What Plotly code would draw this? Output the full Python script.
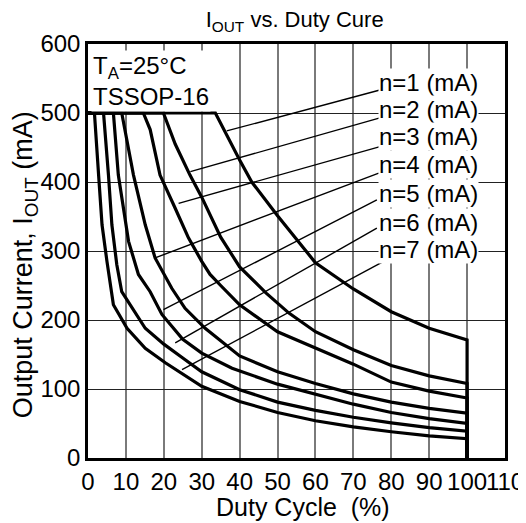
import plotly.graph_objects as go

# ---- data ----
duty_n1 = [0, 33.6, 40, 43.2, 50, 60, 70, 80, 90, 100, 100]
iout_n1 = [500, 500, 432, 400, 351, 283, 245, 212, 188, 171, 0]

duty_n2 = [0, 19.9, 23, 26.9, 30, 35, 40, 47, 53, 60, 70, 80, 90, 100, 100]
iout_n2 = [500, 500, 455, 410, 378, 320, 277, 239, 210, 183, 157, 134, 119, 108, 0]

duty_n3 = [0, 14.6, 16.4, 19, 23, 26.5, 30, 32.2, 35, 40, 50, 60, 70, 80, 90, 100, 100]
iout_n3 = [500, 500, 476, 410, 362, 319, 285, 266, 250, 222, 183, 160, 136, 110, 97, 87, 0]

duty_n4 = [0, 8.9, 12, 15.1, 17.7, 22.1, 25.6, 30.9, 40, 50, 60, 70, 80, 90, 100, 100]
iout_n4 = [500, 500, 410, 338, 290, 246, 217, 188, 148, 125, 108, 93, 81, 72, 65, 0]

duty_n5 = [0, 6.7, 8.0, 10.7, 13.3, 16.4, 19.5, 25, 30, 38, 50, 60, 70, 80, 90, 100, 100]
iout_n5 = [500, 500, 410, 314, 266, 241, 208, 172, 152, 130, 107, 92, 78, 66, 57, 50, 0]

duty_n6 = [0, 4.1, 5.4, 6.3, 7.6, 8.9, 15.1, 20, 25, 30, 40, 50, 60, 70, 80, 90, 100, 100]
iout_n6 = [500, 500, 410, 338, 280, 241, 188, 165, 145, 125, 99, 81, 69, 59, 51, 44, 39, 0]

duty_n7 = [0, 1.7, 2.8, 3.7, 5.0, 6.7, 10.3, 15.1, 20.4, 25, 30, 40, 50, 60, 70, 80, 90, 100, 100]
iout_n7 = [500, 500, 410, 338, 285, 222, 188, 159, 138, 122, 104, 82, 66, 54, 45, 38, 32, 28, 0]

series_duty = [duty_n1, duty_n2, duty_n3, duty_n4, duty_n5, duty_n6, duty_n7]
series_iout = [iout_n1, iout_n2, iout_n3, iout_n4, iout_n5, iout_n6, iout_n7]
series_names = ["n=1 (mA)", "n=2 (mA)", "n=3 (mA)", "n=4 (mA)",
                "n=5 (mA)", "n=6 (mA)", "n=7 (mA)"]

# label text positions and leader-line end points (data units)
label_x = [76.4, 76.4, 76.4, 76.4, 76.4, 76.4, 76.4]
label_y = [544, 505, 466, 425, 384, 342, 302]
leader_from_x = [77.5, 78.4, 77.5, 76.7, 76.2, 76.2, 78.0]
leader_from_y = [534, 495, 452, 413, 374, 333, 285]
leader_to_x = [36.6, 27.0, 23.9, 17.7, 19.9, 23.0, 24.8]
leader_to_y = [474, 415, 369, 290, 215, 167, 128]

x_ticks = [0, 10, 20, 30, 40, 50, 60, 70, 80, 90, 100, 110]
y_ticks = [0, 100, 200, 300, 400, 500, 600]

FONT = "Liberation Sans, Arial, Helvetica, sans-serif"

fig = go.Figure()

# leader lines
for i in range(len(series_names)):
    fig.add_trace(go.Scatter(
        x=[leader_from_x[i], leader_to_x[i]],
        y=[leader_from_y[i], leader_to_y[i]],
        mode="lines", line=dict(color="black", width=1.4),
        showlegend=False, hoverinfo="skip"))

# curves
for d, c, name in zip(series_duty, series_iout, series_names):
    fig.add_trace(go.Scatter(
        x=d, y=c, mode="lines", name=name,
        line=dict(color="black", width=3.2),
        showlegend=False))

# labels
for i, name in enumerate(series_names):
    fig.add_annotation(
        x=label_x[i], y=label_y[i], text=name, showarrow=False,
        xanchor="left", yanchor="middle", bgcolor="white", borderpad=0,
        font=dict(size=24, color="black", family=FONT))

fig.add_annotation(
    x=0.9, y=592, text="T<sub>A</sub>=25°C<br>TSSOP-16", showarrow=False,
    xanchor="left", yanchor="top", align="left", bgcolor="white", borderpad=1,
    font=dict(size=24, color="black", family=FONT))

# axis titles
fig.add_annotation(
    xref="paper", yref="paper", x=0.516, y=-0.118, text="Duty Cycle  (%)",
    showarrow=False, xanchor="center", yanchor="middle",
    font=dict(size=25, color="black", family=FONT))
fig.add_annotation(
    xref="paper", yref="paper", x=-0.152, y=0.467,
    text="Output Current, I<sub>OUT</sub> (mA)", textangle=-90,
    showarrow=False, xanchor="center", yanchor="middle",
    font=dict(size=27, color="black", family=FONT))

# the page body adds an 8 px offset, margins compensate for it
fig.update_layout(
    width=526, height=523,
    margin=dict(l=80, r=29, t=36, b=73, autoexpand=False),
    paper_bgcolor="white", plot_bgcolor="white",
    font=dict(family=FONT, color="black"),
    title=dict(text="I<sub>OUT</sub> vs. Duty Cure", x=0.545, xanchor="center",
               y=0.978, yanchor="middle", font=dict(size=22, family=FONT, color="black")),
)

fig.update_xaxes(
    range=[0, 110], tickvals=x_ticks, ticktext=[str(v) for v in x_ticks],
    tickangle=0,
    showgrid=True, gridcolor="#7a7a7a", gridwidth=1.5,
    showline=True, linecolor="black", linewidth=2.5, mirror=True,
    ticks="", tickfont=dict(size=24, family=FONT, color="black"),
    zeroline=False, automargin=False)

fig.update_yaxes(
    range=[0, 600], tickvals=y_ticks, ticktext=[str(v) for v in y_ticks],
    showgrid=True, gridcolor="#222222", gridwidth=1,
    showline=True, linecolor="black", linewidth=2.5, mirror=True,
    ticks="", tickfont=dict(size=24, family=FONT, color="black"),
    zeroline=False, automargin=False)

fig.write_html("out.html")
